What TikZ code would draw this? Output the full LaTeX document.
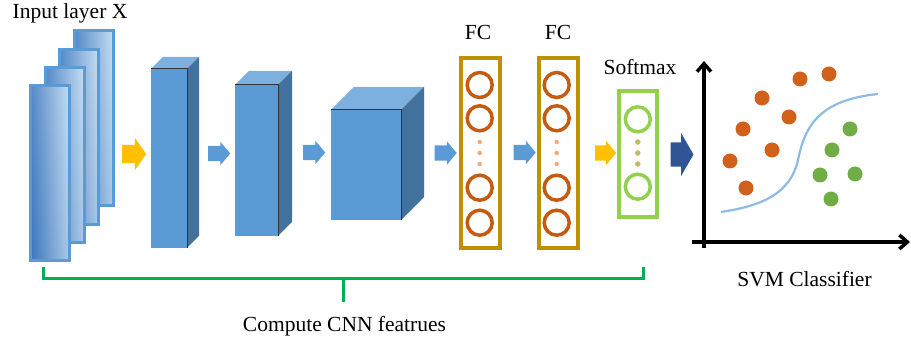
\documentclass[tikz,border=0pt]{standalone}
\usepackage{fontspec}
\setmainfont{Liberation Serif}
\usetikzlibrary{shapes.arrows,arrows.meta}

\definecolor{cnnblue}{HTML}{5B9BD5}
\definecolor{sideblue}{HTML}{41719C}
\definecolor{topblue}{HTML}{7EB0DF}
\definecolor{sheetdark}{HTML}{3D78BE}
\definecolor{sheetlight}{HTML}{C2DAF0}
\definecolor{fcgold}{HTML}{BF9000}
\definecolor{fcorange}{HTML}{C55A11}
\definecolor{dotorange}{HTML}{F4A97A}
\definecolor{smgreen}{HTML}{92D050}
\definecolor{arrowyellow}{HTML}{FFC000}
\definecolor{arrowdark}{HTML}{2F5597}
\definecolor{bracegreen}{HTML}{00B050}
\definecolor{ptgreen}{HTML}{70AD47}
\definecolor{ptorange}{HTML}{D0601A}
\definecolor{curveblue}{HTML}{8DBBE6}

\tikzset{
  lbl/.style={font=\fontsize{21.5}{24}\selectfont, inner sep=0pt, anchor=base},
  sheet/.style={draw=cnnblue, line width=3pt, minimum width=39pt, minimum height=175pt, inner sep=0pt,
    left color=sheetdark, right color=sheetlight, shading angle=93},
  face/.style={fill=cnnblue, inner sep=0pt, outer sep=0pt},
  layerbox/.style={line width=4pt, inner sep=0pt, minimum width=39pt},
  neuron/.style={circle, line width=3.5pt, minimum size=25pt, inner sep=0pt},
  tinydot/.style={circle, inner sep=0pt, minimum size=4.5pt},
  blockarrow/.style={single arrow, inner xsep=0pt, outer sep=0pt},
  pt/.style={circle, inner sep=0pt, minimum size=15pt},
  axis/.style={line width=3.5pt, -{Straight Barb[length=8pt, width=14pt]}},
  brace/.style={bracegreen, line width=3pt},
}

\begin{document}
\begin{tikzpicture}[x=1pt, y=-1pt]
\useasboundingbox (0,0) rectangle (911,344);

% input sheets
\foreach \i in {3,2,1,0}{
  \node[sheet] (sheet\i) at ({50+14.5*\i},{173-18.2*\i}) {};
}
\node[lbl] (inlbl) at (70,18.5) {Input layer X};

% conv blocks
\foreach \nm/\cx/\cy/\w/\h/\d in {conv1/169/158.5/36/179/12, conv2/256.5/160.5/43/151/14, conv3/366/165/70/110/23}{
  \node[face, minimum width=\w pt, minimum height=\h pt] (\nm) at (\cx,\cy) {};
  \fill[topblue] (\nm.north west) -- ++(\d,-\d) -- ([shift={(\d,-\d)}]\nm.north east) -- (\nm.north east) -- cycle;
  \fill[sideblue] (\nm.north east) -- ++(\d,-\d) -- ([shift={(\d,-\d)}]\nm.south east) -- (\nm.south east) -- cycle;
  \draw[black!80, line width=1pt] (\nm.north west) -- (\nm.north east) -- (\nm.south east);
}

% fully connected layers
\node[layerbox, draw=fcgold, minimum height=190pt] (fc1) at (480.5,153) {};
\node[layerbox, draw=fcgold, minimum height=190pt] (fc2) at (558,153) {};
\foreach \f/\x in {fc1/479.7, fc2/556.7}{
  \foreach \y [count=\k] in {85,118.3,187.7,222.7}
    \node[neuron, draw=fcorange] (\f-n\k) at (\x,\y) {};
  \foreach \y [count=\k] in {142,153,164}
    \node[tinydot, fill=dotorange] (\f-d\k) at (\x,\y) {};
}
\node[lbl] (fc1lbl) at (478,40) {FC};
\node[lbl] (fc2lbl) at (558,40) {FC};

% softmax
\node[layerbox, draw=smgreen, minimum width=38pt, minimum height=126pt] (smax) at (638,154) {};
\node[neuron, draw=smgreen] (smax-n1) at (637.8,119.3) {};
\node[neuron, draw=smgreen] (smax-n2) at (637.8,186.7) {};
\foreach \y [count=\k] in {142,153,164}
  \node[tinydot, draw=dotorange, fill=smgreen, line width=1pt] (smax-d\k) at (637.8,\y) {};
\node[lbl] (smlbl) at (640,74.5) {Softmax};

% block arrows
\node[blockarrow, fill=arrowyellow, inner ysep=9pt, minimum height=24pt,
  single arrow head extend=7pt, single arrow tip angle=110] (ar1) at (131,154) {};
\foreach \x/\y [count=\k] in {216/153.5, 311/152.5, 442.5/153, 521.5/152.5}
  \node[blockarrow, fill=cnnblue, inner ysep=7.5pt, minimum height=22pt,
    single arrow head extend=4pt, single arrow tip angle=100] (ab\k) at (\x,\y) {};
\node[blockarrow, fill=arrowyellow, inner ysep=7.5pt, minimum height=21pt,
  single arrow head extend=4.5pt, single arrow tip angle=100] (ar2) at (602.5,153) {};
\node[blockarrow, fill=arrowdark, inner ysep=12pt, minimum height=23pt,
  single arrow head extend=9.5pt, single arrow tip angle=120] (ar3) at (678.5,154.5) {};

% svm plot
\coordinate (ybot) at (704,248);
\coordinate (ytop) at (704,61);
\coordinate (xlft) at (692,242);
\coordinate (xrgt) at (910,242);
\draw[axis] (ybot) -- (ytop);
\draw[axis] (xlft) -- (xrgt);
\draw[curveblue, line width=2.2pt] (721,212) .. controls (760,206) and (790,195) .. (798,160)
  .. controls (805,125) and (820,100) .. (878,94);
\foreach \x/\y [count=\k] in {800/79, 829/74, 762/98, 789/117, 743/129, 772/150, 730/161, 746/188}
  \node[pt, fill=ptorange] (po\k) at (\x,\y) {};
\foreach \x/\y [count=\k] in {850/129, 832/150, 820/175, 855/174, 831/199}
  \node[pt, fill=ptgreen] (pg\k) at (\x,\y) {};
\node[lbl] (svmlbl) at (804.5,286.5) {SVM Classifier};

% bracket
\coordinate (brl) at (43,267);
\coordinate (brr) at (643,267);
\coordinate (brmid) at (343,279);
\coordinate (brtip) at (343,302);
\draw[brace] (brl) -- ++(0,12) -| (brr);
\draw[brace] (brmid) -- (brtip);
\node[lbl] (cnnlbl) at (344.5,331.5) {Compute CNN featrues};
\end{tikzpicture}
\end{document}
